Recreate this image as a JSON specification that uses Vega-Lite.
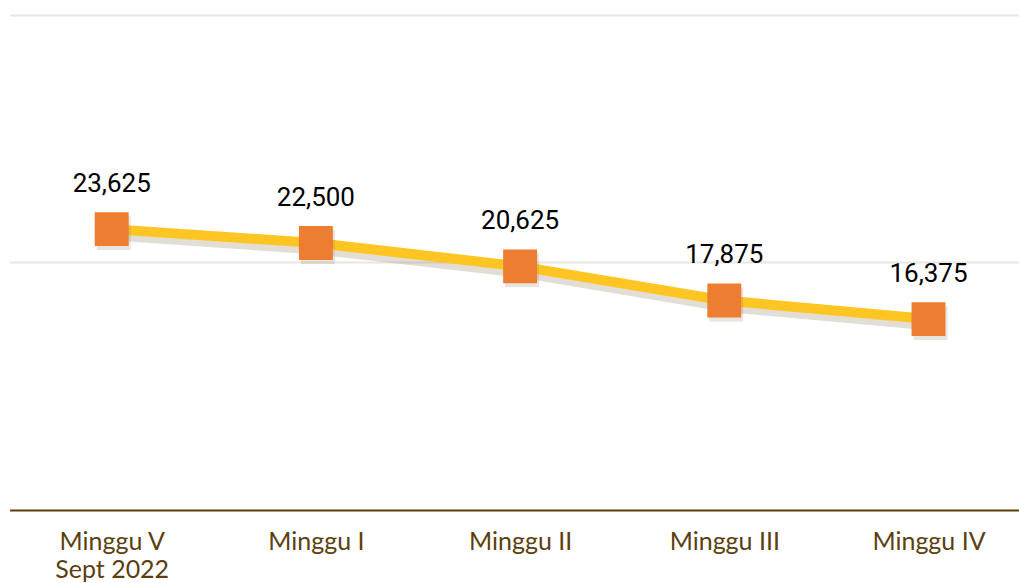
{
  "$schema": "https://vega.github.io/schema/vega-lite/v6.json",
  "autosize": {"type": "none"},
  "width": 1021,
  "height": 495,
  "padding": {"left": 9.6, "top": 15, "right": 0, "bottom": 73},
  "background": "white",
  "config": {"view": {"stroke": null}},
  "data": {
    "values": [
      {"minggu": "Minggu V|Sept 2022", "harga": 23625, "urut": 1},
      {"minggu": "Minggu I", "harga": 22500, "urut": 2},
      {"minggu": "Minggu II", "harga": 20625, "urut": 3},
      {"minggu": "Minggu III", "harga": 17875, "urut": 4},
      {"minggu": "Minggu IV", "harga": 16375, "urut": 5}
    ]
  },
  "encoding": {
    "x": {
      "field": "minggu",
      "type": "ordinal",
      "sort": {"field": "urut"},
      "scale": {"type": "point", "padding": 0.5},
      "axis": {
        "title": null,
        "labelAngle": 0,
        "labelExpr": "split(datum.label, '|')",
        "labelFont": "Lato",
        "labelFontSize": 25,
        "labelColor": "#5B3F0F",
        "labelLineHeight": 28,
        "labelPadding": 20,
        "ticks": false,
        "domainColor": "#5C3D0A",
        "domainWidth": 2,
        "grid": false
      }
    },
    "y": {
      "field": "harga",
      "type": "quantitative",
      "scale": {"domain": [990, 40880], "nice": false, "zero": false},
      "axis": {
        "title": null,
        "values": [20980, 40880],
        "labels": false,
        "ticks": false,
        "domain": false,
        "grid": true,
        "gridColor": "#E9E5E1",
        "gridWidth": 2
      }
    }
  },
  "layer": [
    {
      "mark": {"type": "line", "color": "#8a7a5c", "opacity": 0.25, "strokeWidth": 11, "yOffset": 6, "xOffset": 2}
    },
    {
      "mark": {"type": "line", "color": "#FFC522", "strokeWidth": 10}
    },
    {
      "mark": {"type": "point", "shape": "square", "filled": true, "size": 1150, "color": "#8a7a5c", "opacity": 0.2, "yOffset": 4, "xOffset": 2}
    },
    {
      "mark": {"type": "point", "shape": "square", "filled": true, "size": 1150, "color": "#ED7D31", "opacity": 1}
    },
    {
      "mark": {"type": "text", "dy": -37, "baseline": "alphabetic", "font": "Roboto", "fontSize": 26, "color": "#000000"},
      "encoding": {"text": {"field": "harga", "type": "quantitative", "format": ",d"}}
    }
  ]
}
